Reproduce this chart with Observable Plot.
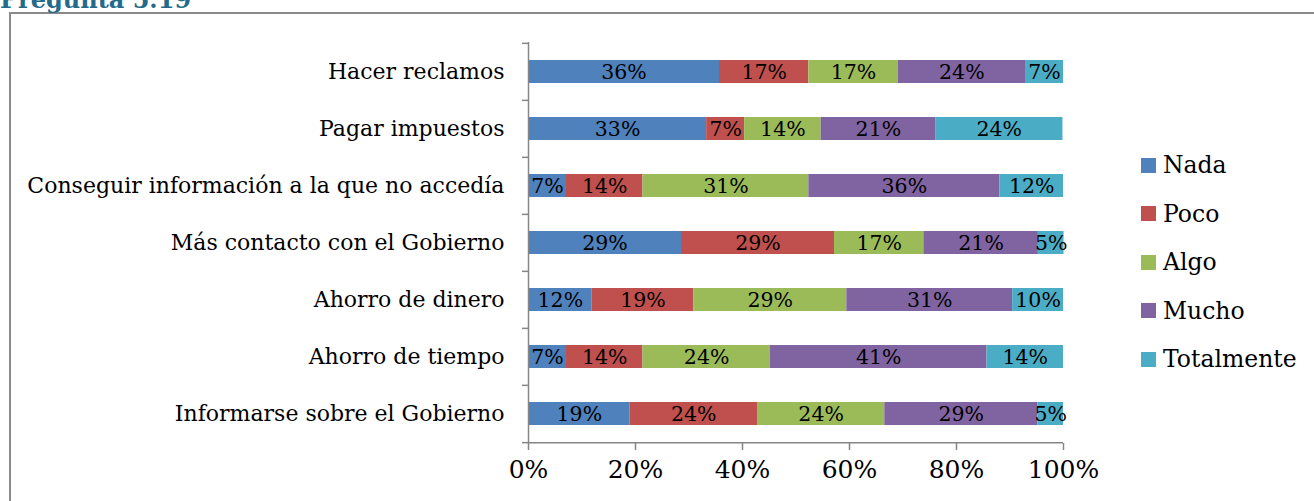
<!DOCTYPE html>
<html>
<head>
<meta charset="utf-8">
<script src="https://cdn.jsdelivr.net/npm/d3@7"></script>
<script src="https://cdn.jsdelivr.net/npm/@observablehq/plot@0.6"></script>
<style>
  html, body { margin: 0; padding: 0; background: #fff; width: 1314px; height: 501px; overflow: hidden; }
  #wrap { position: relative; width: 1314px; height: 501px; overflow: hidden; }
  #title { position: absolute; left: 0; top: -12px; font-family: "DejaVu Serif", serif; font-weight: bold; font-size: 24px; line-height: 24px; color: #246A8A; white-space: nowrap; }
  #box { position: absolute; left: 9px; top: 12px; width: 1400px; height: 600px; border: 2px solid #8a8a8a; }
  #chart { position: absolute; left: 0; top: 0; }
  #legend { position: absolute; left: 1141px; top: 141px; font-family: "DejaVu Serif", serif; font-size: 23.5px; color: #000; }
  .item { display: flex; align-items: center; height: 48.5px; white-space: nowrap; }
  .sw { width: 15px; height: 15px; margin-right: 7px; flex: none; }
</style>
</head>
<body>
<div id="wrap">
  <div id="box"></div>
  <div id="title">Pregunta 5.19</div>
  <div id="chart"></div>
  <div id="legend"></div>
</div>
<script>
const categories = [
  "Hacer reclamos",
  "Pagar impuestos",
  "Conseguir información a la que no accedía",
  "Más contacto con el Gobierno",
  "Ahorro de dinero",
  "Ahorro de tiempo",
  "Informarse sobre el Gobierno"
];
const levels = ["Nada", "Poco", "Algo", "Mucho", "Totalmente"];
const colors = ["#4F81BD", "#C0504D", "#9BBB59", "#8064A2", "#4BACC6"];
const nada       = [35.7, 33.3,  7.1, 28.6, 11.9,  7.1, 19.0];
const poco       = [16.7,  7.1, 14.3, 28.6, 19.0, 14.3, 23.8];
const algo       = [16.7, 14.3, 31.0, 16.7, 28.6, 23.8, 23.8];
const mucho      = [23.8, 21.4, 35.7, 21.4, 31.0, 40.5, 28.6];
const totalmente = [ 7.1, 23.8, 11.9,  4.8,  9.5, 14.3,  4.8];
const xTicks = [0, 20, 40, 60, 80, 100];

const series = [nada, poco, algo, mucho, totalmente];
const data = [];
categories.forEach((c, i) => {
  levels.forEach((l, j) => data.push({category: c, level: l, value: series[j][i]}));
});

const W = 1314, H = 501, mt = 42, mb = 58;
const step = (H - mt - mb) / categories.length;
const axisGray = "#868686";

const chart = Plot.plot({
  width: W,
  height: H,
  marginLeft: 528,
  marginRight: 251,
  marginTop: mt,
  marginBottom: mb,
  style: {fontFamily: "DejaVu Serif, serif", fontSize: "22px", color: "#000", background: "transparent", overflow: "visible"},
  x: {domain: [0, 100], label: null},
  y: {domain: categories, paddingInner: 0.6, paddingOuter: 0.3, label: null},
  color: {domain: levels, range: colors},
  marks: [
    Plot.barX(data, {x: "value", y: "category", fill: "level", order: null}),
    Plot.text(data, Plot.stackX({x: "value", y: "category", text: d => Math.round(d.value) + "%", fontSize: 20.5, fill: "#000", order: null})),
    Plot.ruleX([0], {stroke: axisGray, strokeWidth: 1.5}),
    Plot.ruleY([categories[categories.length - 1]], {x1: 0, x2: 100, dy: step / 2, stroke: axisGray, strokeWidth: 1.5}),
    Plot.axisY({tickSize: 0, tickPadding: 24, fontSize: 22, label: null}),
    Plot.axisY({text: null, tickSize: 6, dy: -step / 2, stroke: axisGray, strokeWidth: 1.5, label: null}),
    Plot.axisY({ticks: [categories[categories.length - 1]], text: null, tickSize: 6, dy: step / 2, stroke: axisGray, strokeWidth: 1.5, label: null}),
    Plot.axisX({ticks: xTicks, tickFormat: d => d + "%", tickSize: 7, tickPadding: 10, fontSize: 25, stroke: axisGray, strokeWidth: 1.5, label: null})
  ]
});
document.getElementById("chart").appendChild(chart);

const legend = document.getElementById("legend");
levels.forEach((l, j) => {
  const row = document.createElement("div");
  row.className = "item";
  const sw = document.createElement("div");
  sw.className = "sw";
  sw.style.background = colors[j];
  const t = document.createElement("span");
  t.textContent = l;
  row.appendChild(sw);
  row.appendChild(t);
  legend.appendChild(row);
});
</script>
</body>
</html>
